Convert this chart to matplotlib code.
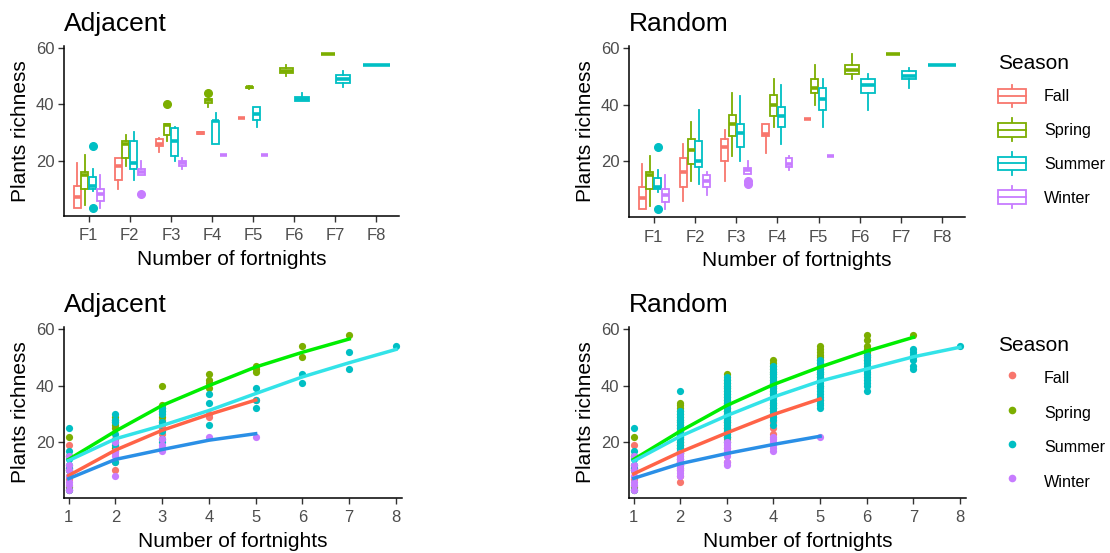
import matplotlib
matplotlib.use("Agg")
import matplotlib.pyplot as plt
from matplotlib.lines import Line2D
from matplotlib.patches import Rectangle
from matplotlib.legend_handler import HandlerBase

plt.rcParams['font.family'] = ['Liberation Sans', 'DejaVu Sans']

# ---------------- data ----------------
seasons = ['Fall', 'Spring', 'Summer', 'Winter']
season_colors = ['#F8766D', '#7CAE00', '#00BFC4', '#C77CFF']
fit_colors = ['#FF6347', '#00EE00', '#33E3E8', '#2A8FE6']
fortnight_labels = ['F1', 'F2', 'F3', 'F4', 'F5', 'F6', 'F7', 'F8']

# boxplots: (fortnight, low whisker, q1, median, q3, high whisker, outliers)
adj_box_fall = [(1, 3, 3, 7, 11, 19, []), (2, 10, 13, 18, 21, 21, []),
                (3, 23, 25, 26, 27.5, 28, []), (4, 29.5, 29.5, 29.8, 30, 30, []),
                (5, 35, 35, 35, 35, 35, [])]
adj_box_spring = [(1, 4, 10, 15, 16, 22, []), (2, 18, 21, 26, 27, 29, []),
                  (3, 27, 29, 32.5, 33, 33, [40]), (4, 39, 40.5, 41.5, 42, 42, [44]),
                  (5, 45.3, 45.8, 46, 46.3, 46.5, []), (6, 50, 51, 52, 53, 54, []),
                  (7, 58, 58, 58, 58, 58, [])]
adj_box_summer = [(1, 9, 10, 11, 14, 17, [25, 3]), (2, 13, 17, 19, 27, 30, []),
                  (3, 20, 21.5, 27, 31.5, 32, []), (4, 26, 26, 34, 34, 37, []),
                  (5, 32, 34.5, 36.5, 39, 39, []), (6, 41, 41, 41.8, 42.6, 44, []),
                  (7, 46, 47.5, 49, 50.5, 52, []), (8, 54, 54, 54, 54, 54, [])]
adj_box_winter = [(1, 3, 5.5, 8, 10, 15, []), (2, 15, 15, 16, 17, 20, [8]),
                  (3, 17, 18, 19, 20, 21, []), (4, 22, 22, 22, 22, 22, []),
                  (5, 22, 22, 22, 22, 22, [])]

rnd_box_fall = [(1, 3, 3, 7, 11, 19, []), (2, 6, 11, 16, 21, 26, []),
                (3, 13, 20, 25, 28, 31, []), (4, 23, 29, 29.5, 33, 33, []),
                (5, 35, 35, 35, 35, 35, [])]
rnd_box_spring = [(1, 4, 10, 15, 16, 22, []), (2, 13, 19, 24, 28, 34, []),
                  (3, 22, 29, 33, 36.5, 44, []), (4, 32, 36, 40, 43.5, 49, []),
                  (5, 40, 44, 46, 49, 54, []), (6, 49, 51, 52.3, 54, 58, []),
                  (7, 58, 58, 58, 58, 58, [])]
rnd_box_summer = [(1, 9, 10, 11, 14, 17, [25, 3]), (2, 12, 18, 20, 27, 38, []),
                  (3, 20, 25, 30, 33, 43, []), (4, 26, 32, 36, 39, 47, []),
                  (5, 32, 38, 42, 46, 49, []), (6, 38, 44, 47, 49, 51, []),
                  (7, 46, 49, 50, 52, 53, []), (8, 54, 54, 54, 54, 54, [])]
rnd_box_winter = [(1, 3, 5.5, 8, 10, 15, []), (2, 8, 11, 13, 15, 16, []),
                  (3, 15.5, 15.5, 17, 17.5, 20, [12, 13]), (4, 17, 18, 19, 21, 22, []),
                  (5, 22, 22, 22, 22, 22, [])]

# raw points: fortnight -> richness values
adj_pts_fall = {1: [3, 7, 11, 19], 2: [10, 13, 18, 21], 3: [23, 25, 26, 28],
                4: [29, 30], 5: [35]}
adj_pts_spring = {1: [4, 10, 15, 22], 2: [18, 25, 26, 27, 28, 29],
                  3: [27, 29, 31, 32, 33, 40], 4: [39, 41, 42, 44],
                  5: [45, 46, 47], 6: [50, 54], 7: [58]}
adj_pts_summer = {1: [3, 10, 11, 12, 14, 17, 25], 2: [13, 17, 19, 20, 23, 27, 28, 30],
                  3: [20, 21, 24, 27, 30, 31, 32], 4: [26, 34, 37], 5: [32, 35, 39],
                  6: [41, 44], 7: [46, 52], 8: [54]}
adj_pts_winter = {1: [3, 5, 6, 8, 10, 12, 15], 2: [8, 15, 16, 17, 20],
                  3: [17, 18, 19, 21], 4: [22], 5: [22]}

rnd_pts_fall = {1: [3, 7, 11, 19],
                2: [6, 8, 10, 11, 12, 13, 14, 15, 16, 17, 18, 19, 20, 21, 23, 24, 26],
                3: [13, 16, 18, 20, 21, 22, 23, 24, 25, 26, 27, 28, 29, 31],
                4: [23, 25, 27, 29, 30, 31, 32, 33], 5: [35]}
rnd_pts_spring = {1: [4, 10, 15, 22],
                  2: [13, 16, 18, 19, 20, 21, 22, 23, 24, 25, 26, 27, 28, 29, 30, 31, 32, 33, 34],
                  3: [22, 25, 27, 29, 30, 31, 32, 33, 34, 35, 36, 37, 38, 39, 40, 41, 42, 44],
                  4: [32, 34, 36, 37, 38, 39, 40, 41, 42, 43, 44, 45, 46, 47, 48, 49],
                  5: [40, 42, 43, 44, 45, 46, 47, 48, 49, 50, 51, 52, 53, 54],
                  6: [49, 50, 51, 52, 53, 54, 56, 58], 7: [58]}
rnd_pts_summer = {1: [3, 10, 11, 12, 14, 17, 25],
                  2: [12, 14, 16, 17, 18, 19, 20, 21, 22, 23, 24, 25, 26, 27, 28, 29, 30, 31, 38],
                  3: [20, 22, 23, 24, 25, 26, 27, 28, 29, 30, 31, 32, 33, 34, 35, 36, 37, 38, 39, 40, 41, 42, 43],
                  4: [26, 28, 29, 30, 31, 32, 33, 34, 35, 36, 37, 38, 39, 40, 41, 42, 43, 44, 45, 46, 47],
                  5: [32, 33, 34, 35, 36, 37, 38, 39, 40, 41, 42, 43, 44, 45, 46, 47, 48, 49],
                  6: [38, 40, 41, 42, 43, 44, 45, 46, 47, 48, 49, 50, 51],
                  7: [46, 47, 49, 50, 51, 52, 53], 8: [54]}
rnd_pts_winter = {1: [3, 5, 6, 8, 10, 12, 15], 2: [8, 9, 10, 11, 12, 13, 14, 15, 16],
                  3: [12, 13, 15, 16, 17, 18, 19, 20], 4: [17, 18, 19, 20, 21, 22], 5: [22]}

# fitted curves at fortnights 1..n
adj_fit_fall = [8.2, 17.2, 24.2, 29.8, 34.9]
adj_fit_spring = [13.9, 23.9, 33.0, 40.0, 46.6, 51.8, 56.5]
adj_fit_summer = [13.5, 21.2, 25.9, 31.2, 37.2, 43.1, 48.1, 52.8]
adj_fit_winter = [7.1, 13.9, 17.4, 20.7, 23.0]
rnd_fit_fall = [8.8, 16.5, 23.3, 29.8, 35.3]
rnd_fit_spring = [13.9, 23.9, 33.0, 40.4, 46.6, 52.2, 57.1]
rnd_fit_summer = [13.3, 22.1, 29.4, 36.0, 41.6, 45.9, 50.2, 53.6]
rnd_fit_winter = [7.2, 12.4, 16.0, 19.2, 22.1]

# ---------------- figure ----------------
W, H = 1110, 553
fig = plt.figure(figsize=(W / 100, H / 100), dpi=100)
TXT = '#4D4D4D'


def px_axes(l, t, r, b):
    return fig.add_axes([l / W, 1 - b / H, (r - l) / W, (b - t) / H])


def style(ax, title):
    for s in ['top', 'right']:
        ax.spines[s].set_visible(False)
    for s in ['left', 'bottom']:
        ax.spines[s].set_linewidth(1.1)
    ax.tick_params(length=4, width=1.0, colors='#333333', labelcolor=TXT,
                   labelsize=12, pad=3)
    ax.tick_params(axis='x', pad=5)
    ax.set_ylim(0.25, 60.75)
    ax.set_yticks([20, 40, 60])
    ax.set_title(title, loc='left', fontsize=19, pad=11)
    ax.set_ylabel('Plants richness', fontsize=15)
    ax.set_xlabel('Number of fortnights', fontsize=15)
    ax.yaxis.set_label_coords(-0.1, 0.5)
    ax.xaxis.set_label_coords(0.5, -0.198)


def draw_boxes(ax, box_lists):
    present = {}
    for si, bl in enumerate(box_lists):
        for row in bl:
            present.setdefault(row[0], []).append(si)
    for si, bl in enumerate(box_lists):
        c = season_colors[si]
        stats, pos, wid = [], [], []
        for f, lo, q1, med, q3, hi, fl in bl:
            n = len(present[f])
            k = present[f].index(si)
            w = 0.75 / n
            pos.append(f - 0.375 + (k + 0.5) * w)
            wid.append(w * 0.9)
            stats.append(dict(med=med, q1=q1, q3=q3, whislo=lo, whishi=hi, fliers=fl))
        ax.bxp(stats, positions=pos, widths=wid, patch_artist=True, showcaps=False,
               manage_ticks=False,
               boxprops=dict(facecolor='white', edgecolor=c, linewidth=1.3),
               whiskerprops=dict(color=c, linewidth=1.3),
               medianprops=dict(color=c, linewidth=2.6, solid_capstyle='butt'),
               flierprops=dict(marker='o', markerfacecolor=c, markeredgecolor=c,
                               markersize=5.5))
    ax.set_xlim(0.4, 8.55)
    ax.set_xticks(range(1, 9))
    ax.set_xticklabels(fortnight_labels)


def draw_points(ax, pt_dicts, fits):
    for si, d in enumerate(pt_dicts):
        for f, vals in d.items():
            ax.scatter([f] * len(vals), vals, s=27, color=season_colors[si],
                       linewidths=0, zorder=2)
    for si, fit in enumerate(fits):
        ax.plot(range(1, len(fit) + 1), fit, color=fit_colors[si], lw=2.5, zorder=3)
    ax.set_xlim(0.9, 8.13)
    ax.set_xticks(range(1, 9))


class BoxKey(HandlerBase):
    def create_artists(self, legend, orig, xd, yd, w, h, fs, trans):
        c = orig.get_color()
        x0, y0 = -xd, -yd
        bh = h * 0.62
        by = y0 + (h - bh) / 2
        rect = Rectangle((x0, by), w, bh, facecolor='white', edgecolor=c,
                         lw=1.3, transform=trans)
        med = Line2D([x0, x0 + w], [y0 + h / 2] * 2, color=c, lw=1.3, transform=trans)
        wl = Line2D([x0 + w / 2] * 2, [y0, by], color=c, lw=1.3, transform=trans)
        wh = Line2D([x0 + w / 2] * 2, [by + bh, y0 + h], color=c, lw=1.3, transform=trans)
        return [wl, wh, rect, med]


ax1 = px_axes(64, 46, 399, 216)
ax2 = px_axes(629, 46, 965, 217)
ax3 = px_axes(64, 327, 402, 498)
ax4 = px_axes(629, 327, 966, 498)

draw_boxes(ax1, [adj_box_fall, adj_box_spring, adj_box_summer, adj_box_winter])
draw_boxes(ax2, [rnd_box_fall, rnd_box_spring, rnd_box_summer, rnd_box_winter])
draw_points(ax3, [adj_pts_fall, adj_pts_spring, adj_pts_summer, adj_pts_winter],
            [adj_fit_fall, adj_fit_spring, adj_fit_summer, adj_fit_winter])
draw_points(ax4, [rnd_pts_fall, rnd_pts_spring, rnd_pts_summer, rnd_pts_winter],
            [rnd_fit_fall, rnd_fit_spring, rnd_fit_summer, rnd_fit_winter])

for ax, t in zip([ax1, ax2, ax3, ax4], ['Adjacent', 'Random', 'Adjacent', 'Random']):
    style(ax, t)

box_handles = [Line2D([], [], color=c) for c in season_colors]
leg1 = fig.legend(box_handles, seasons, handler_map={Line2D: BoxKey()},
                  loc='upper left', bbox_to_anchor=(998 / W, 1 - 54 / H),
                  frameon=False, title='Season', title_fontsize=15, fontsize=11.6,
                  alignment='left', handlelength=1.75, handleheight=1.75,
                  handletextpad=1.1, labelspacing=0.72, borderpad=0, borderaxespad=0)

pt_handles = [Line2D([], [], marker='o', ls='', color=c, markersize=5.5, markeredgewidth=0)
              for c in season_colors]
leg2 = fig.legend(pt_handles, seasons, loc='upper left',
                  bbox_to_anchor=(998 / W, 1 - 336 / H),
                  frameon=False, title='Season', title_fontsize=15, fontsize=11.6,
                  alignment='left', handlelength=1.75, handleheight=1.75,
                  handletextpad=1.1, labelspacing=0.75, borderpad=0, borderaxespad=0)

fig.savefig('out.png', dpi=100)
